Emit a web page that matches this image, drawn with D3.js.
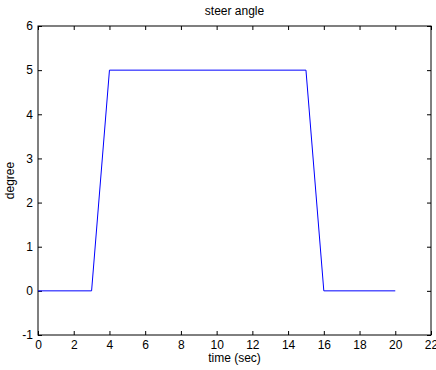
<!DOCTYPE html>
<html>
<head>
<meta charset="utf-8">
<script src="https://cdn.jsdelivr.net/npm/d3@7"></script>
<style>
  body { margin: 0; background: #fff; }
  svg { display: block; }
  text { font-family: "Liberation Sans", Arial, sans-serif; fill: #000; }
</style>
</head>
<body>
<svg id="chart" width="436" height="370"></svg>
<script>
// Steer angle input profile: ramp up, hold, ramp down
const timeSec = [0, 3, 4, 15, 16, 20];
const steerDeg = [0, 0, 5, 5, 0, 0];
const xTicks = [0, 2, 4, 6, 8, 10, 12, 14, 16, 18, 20, 22];
const yTicks = [-1, 0, 1, 2, 3, 4, 5, 6];

const svg = d3.select("#chart");
const plotLeft = 38, plotRight = 431, plotTop = 26, plotBottom = 335;
const fontSize = 12;

const x = d3.scaleLinear().domain([0, 22]).range([plotLeft, plotRight]);
const y = d3.scaleLinear().domain([-1, 6]).range([plotBottom, plotTop]);

const tickLen = 4;
// plain integer labels with an ASCII hyphen for negatives
const intFmt = d => (d < 0 ? "-" + Math.abs(d) : String(d));

// Bottom/left axes carry labels, top/right carry ticks only
const gx = svg.append("g").attr("transform", `translate(0,${plotBottom})`)
  .call(d3.axisBottom(x).tickValues(xTicks).tickFormat(intFmt).tickSizeInner(-tickLen).tickSizeOuter(0).tickPadding(5));
const gxt = svg.append("g").attr("transform", `translate(0,${plotTop})`)
  .call(d3.axisTop(x).tickValues(xTicks).tickSizeInner(-tickLen).tickSizeOuter(0).tickFormat(""));
const gy = svg.append("g").attr("transform", `translate(${plotLeft},0)`)
  .call(d3.axisLeft(y).tickValues(yTicks).tickFormat(intFmt).tickSizeInner(-tickLen).tickSizeOuter(0).tickPadding(5));
const gyr = svg.append("g").attr("transform", `translate(${plotRight},0)`)
  .call(d3.axisRight(y).tickValues(yTicks).tickSizeInner(-tickLen).tickSizeOuter(0).tickFormat(""));

[gx, gxt, gy, gyr].forEach(g => {
  g.select(".domain").remove();
  g.selectAll("line").attr("stroke", "#000");
  g.selectAll("text").attr("font-size", fontSize).attr("font-family", "Liberation Sans, Arial, sans-serif");
});

// Axes box
svg.append("rect")
  .attr("x", plotLeft).attr("y", plotTop)
  .attr("width", plotRight - plotLeft).attr("height", plotBottom - plotTop)
  .attr("fill", "none").attr("stroke", "#000").attr("stroke-width", 1);

// Data line
const line = d3.line().x((d, i) => x(timeSec[i])).y((d, i) => y(steerDeg[i]));
svg.append("path")
  .datum(timeSec)
  .attr("d", line)
  .attr("fill", "none")
  .attr("stroke", "#0000ff")
  .attr("stroke-width", 1);

// Title and labels
svg.append("text").attr("x", (plotLeft + plotRight) / 2).attr("y", 15)
  .attr("text-anchor", "middle").attr("font-size", fontSize).text("steer angle");
svg.append("text").attr("x", (plotLeft + plotRight) / 2).attr("y", 362)
  .attr("text-anchor", "middle").attr("font-size", fontSize).text("time (sec)");
svg.append("text")
  .attr("transform", `translate(14,${(plotTop + plotBottom) / 2}) rotate(-90)`)
  .attr("text-anchor", "middle").attr("font-size", fontSize).text("degree");
</script>
</body>
</html>
